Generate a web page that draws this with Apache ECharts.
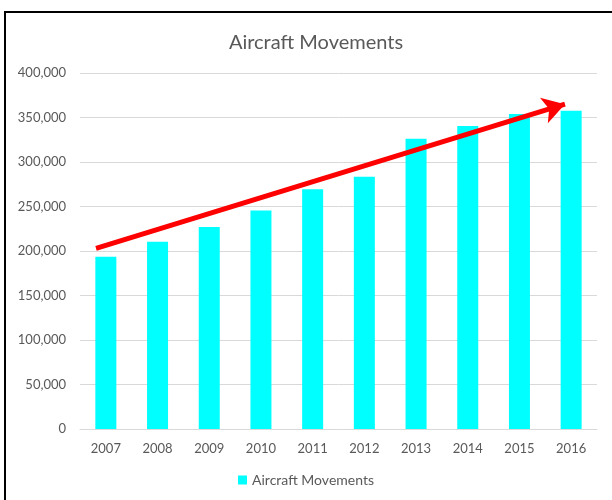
<!DOCTYPE html>
<html>
<head>
<meta charset="utf-8">
<script src="https://cdn.jsdelivr.net/npm/echarts@6/dist/echarts.min.js"></script>
<style>
  html, body { margin: 0; padding: 0; background: #fff; }
  #chart { position: absolute; left: 0; top: 0; width: 612px; height: 500px; }
  #frame { position: absolute; left: 4px; top: 11px; width: 620px; height: 500px; border: 2px solid #000; pointer-events: none; box-sizing: border-box; }
</style>
</head>
<body>
<div id="chart"></div>
<div id="frame"></div>
<script>
const years = ['2007','2008','2009','2010','2011','2012','2013','2014','2015','2016'];
const movements = [193500, 210500, 227000, 245500, 269500, 283500, 326000, 340500, 354000, 357500];
const arrowStart = [-0.19, 203000];
const arrowEnd = [8.88, 365000];

const font = 'Lato, "Open Sans", sans-serif';
const chart = echarts.init(document.getElementById('chart'));
chart.setOption({
  animation: false,
  backgroundColor: '#fff',
  title: {
    text: 'Aircraft Movements',
    left: 311, top: 28, textAlign: 'center',
    textStyle: { fontFamily: font, fontSize: 20, fontWeight: 'normal', color: '#595959' }
  },
  legend: {
    bottom: 8, left: 'center',
    icon: 'rect', itemWidth: 9, itemHeight: 9, itemGap: 4,
    data: ['Aircraft Movements'],
    textStyle: { fontFamily: font, fontSize: 14, color: '#595959' }
  },
  grid: { left: 80, right: 15, top: 73, bottom: 71, containLabel: false },
  xAxis: [
    {
      type: 'category', data: years,
      axisLine: { lineStyle: { color: '#d9d9d9' } },
      axisTick: { show: false },
      axisLabel: { fontFamily: font, fontSize: 13, color: '#595959', margin: 13 }
    },
    { type: 'value', min: -0.5, max: 9.5, show: false }
  ],
  yAxis: {
    type: 'value', min: 0, max: 400000, interval: 50000,
    axisLine: { show: false }, axisTick: { show: false },
    splitLine: { lineStyle: { color: '#d9d9d9' } },
    axisLabel: {
      fontFamily: font, fontSize: 13, color: '#595959', margin: 14,
      formatter: v => v.toLocaleString('en-US')
    }
  },
  series: [
    {
      name: 'Aircraft Movements', type: 'bar', data: movements,
      barWidth: 21, itemStyle: { color: '#00FFFF' }
    },
    {
      name: 'trend', type: 'line', xAxisIndex: 1, data: [],
      symbol: 'none', silent: true,
      markLine: {
        silent: true, animation: false,
        symbol: ['none', 'arrow'], symbolSize: [20, 22],
        label: { show: false },
        lineStyle: { color: '#FF0000', width: 5, type: 'solid' },
        data: [[{ coord: arrowStart }, { coord: arrowEnd }]]
      }
    }
  ]
});
</script>
</body>
</html>
